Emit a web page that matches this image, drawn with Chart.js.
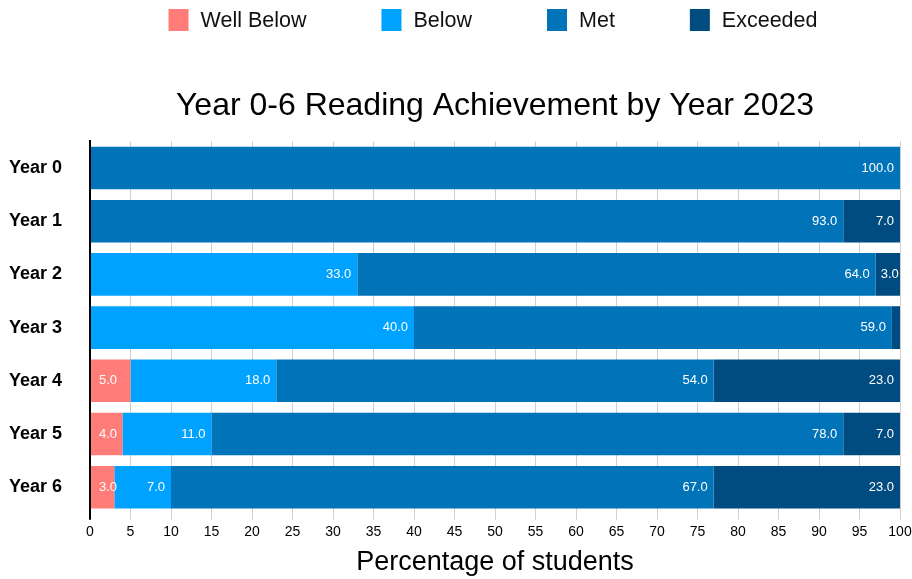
<!DOCTYPE html>
<html>
<head>
<meta charset="utf-8">
<title>Reading Achievement 2023</title>
<script src="https://cdn.jsdelivr.net/npm/chart.js@4/dist/chart.umd.min.js"></script>
<style>
  body { margin: 0; background: #fff; }
  #wrap { width: 912px; height: 579px; position: relative; }
</style>
</head>
<body>
<div id="wrap"><canvas id="readingChart"></canvas></div>
<script>
const years = ["Year 0", "Year 1", "Year 2", "Year 3", "Year 4", "Year 5", "Year 6"];
const wellBelow = [0, 0, 0, 0, 5, 4, 3];
const below = [0, 0, 33, 40, 18, 11, 7];
const met = [100, 93, 64, 59, 54, 78, 67];
const exceeded = [0, 7, 3, 1, 23, 7, 23];
const xTicks = { min: 0, max: 100, step: 5 };

const FONT = '"Liberation Sans", Arial, Helvetica, sans-serif';
Chart.defaults.font.family = FONT;
Chart.defaults.color = "#000";

// white value text on each segment, clipped to the plot area
const segmentLabels = {
  id: "segmentLabels",
  afterDatasetsDraw(chart) {
    const ctx = chart.ctx;
    const area = chart.chartArea;
    ctx.save();
    ctx.beginPath();
    ctx.rect(area.left, area.top, area.right - area.left, area.bottom - area.top);
    ctx.clip();
    ctx.font = "13px " + FONT;
    ctx.fillStyle = "#fff";
    ctx.textBaseline = "middle";
    chart.data.datasets.forEach((ds, di) => {
      const meta = chart.getDatasetMeta(di);
      meta.data.forEach((bar, i) => {
        const v = ds.data[i];
        if (!v) return;
        const start = Math.min(bar.base, bar.x);
        const end = Math.max(bar.base, bar.x);
        const w = end - start;
        if (w < 15) return;
        const txt = v.toFixed(1);
        const tw = ctx.measureText(txt).width;
        if (di === 0 || tw + 8 > w) {
          ctx.textAlign = "left";
          ctx.fillText(txt, start + (di === 0 ? 8 : 5), bar.y);
        } else {
          ctx.textAlign = "right";
          ctx.fillText(txt, end - 6, bar.y);
        }
      });
    });
    ctx.restore();
  }
};

// wide-spaced legend row centred over the plot area
const spacedLegend = {
  id: "spacedLegend",
  afterDraw(chart) {
    const ctx = chart.ctx;
    const area = chart.chartArea;
    const boxW = 20, boxH = 22, textGap = 12, itemGap = 75, top = 9;
    ctx.save();
    ctx.font = "21.5px " + FONT;
    ctx.textBaseline = "middle";
    ctx.textAlign = "left";
    const items = chart.data.datasets.map((ds) => ({
      label: ds.label,
      color: ds.backgroundColor,
      w: boxW + textGap + ctx.measureText(ds.label).width
    }));
    const total = items.reduce((s, it) => s + it.w, 0) + itemGap * (items.length - 1);
    let x = (area.left + area.right) / 2 - total / 2 - 2;
    items.forEach((it) => {
      ctx.fillStyle = it.color;
      ctx.fillRect(x, top, boxW, boxH);
      ctx.fillStyle = "#111";
      ctx.fillText(it.label, x + boxW + textGap, top + boxH / 2 + 1);
      x += it.w + itemGap;
    });
    ctx.restore();
  }
};

const ctx = document.getElementById("readingChart").getContext("2d");
new Chart(ctx, {
  type: "bar",
  data: {
    labels: years,
    datasets: [
      { label: "Well Below", data: wellBelow, backgroundColor: "#FF7C78" },
      { label: "Below", data: below, backgroundColor: "#00A2FF" },
      { label: "Met", data: met, backgroundColor: "#0073B9" },
      { label: "Exceeded", data: exceeded, backgroundColor: "#004B80" }
    ]
  },
  options: {
    indexAxis: "y",
    responsive: true,
    maintainAspectRatio: false,
    animation: false,
    layout: { padding: { left: 8, right: 12, top: 0, bottom: 0 } },
    datasets: { bar: { barPercentage: 0.8, categoryPercentage: 1.0, borderWidth: 0 } },
    plugins: {
      legend: { display: false },
      title: {
        display: true,
        text: "Year 0-6 Reading Achievement by Year 2023",
        fullSize: false,
        font: { size: 32, weight: "normal" },
        color: "#000",
        padding: { top: 87, bottom: 16 }
      },
      tooltip: { enabled: false }
    },
    scales: {
      x: {
        stacked: true,
        min: xTicks.min,
        max: xTicks.max,
        ticks: { stepSize: xTicks.step, font: { size: 14 }, color: "#000", padding: 4 },
        grid: {
          color: (c) => (c.tick && c.tick.value === 0 ? "#000" : "#cfcfcf"),
          lineWidth: (c) => (c.tick && c.tick.value === 0 ? 2 : 1),
          tickLength: 6
        },
        border: { display: false },
        title: {
          display: true,
          text: "Percentage of students",
          font: { size: 27 },
          color: "#000",
          padding: { top: 2, bottom: 0 }
        },
        afterFit(scale) {
          scale.paddingRight = 0;
        }
      },
      y: {
        stacked: true,
        grid: { display: false },
        border: { display: true, color: "#000", width: 2 },
        ticks: { font: { size: 18, weight: "bold" }, color: "#000", padding: 20 },
        afterFit(scale) {
          scale.width = 82;
        }
      }
    }
  },
  plugins: [segmentLabels, spacedLegend]
});
</script>
</body>
</html>
